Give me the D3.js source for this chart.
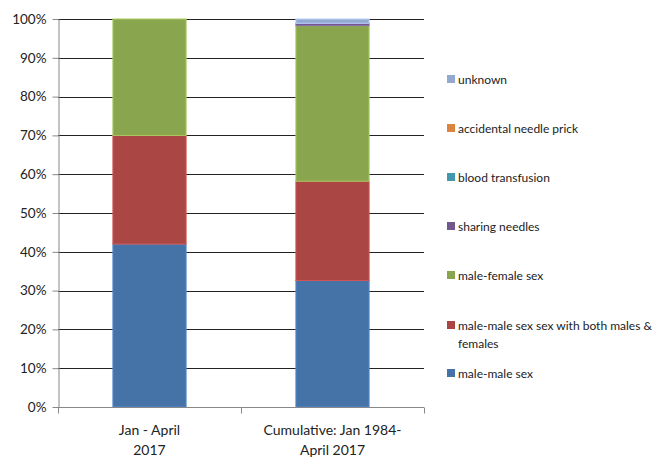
<!DOCTYPE html>
<html><head><meta charset="utf-8">
<script src="https://cdn.jsdelivr.net/npm/d3@7"></script>
<style>body{margin:0;background:#fff}svg text{font-family:Lato,"Open Sans",sans-serif;fill:#222}</style>
</head><body>
<svg id="c" width="657" height="457"></svg>
<script>
const categories = [["Jan - April","2017"],["Cumulative: Jan 1984-","April 2017"]];
const seriesNames = ["male-male sex","male-male sex sex with both males & females","male-female sex","sharing needles","blood transfusion","accidental needle prick","unknown"];
const maleMale = [42, 32.6];
const maleMaleBoth = [28, 25.6];
const maleFemale = [30, 40.1];
const sharingNeedles = [0, 0.6];
const bloodTransfusion = [0, 0];
const needlePrick = [0, 0];
const unknown = [0, 1.1];
const yTicks = [0,10,20,30,40,50,60,70,80,90,100];
const colors = ["#4572A7","#AA4643","#89A54E","#71588F","#4198AF","#DB843D","#93A9CF"];

const values = [maleMale, maleMaleBoth, maleFemale, sharingNeedles, bloodTransfusion, needlePrick, unknown];
const rows = categories.map((c,i)=>{const r={cat:i}; seriesNames.forEach((s,j)=>r[s]=values[j][i]); return r;});
const stack = d3.stack().keys(seriesNames)(rows);

const svg = d3.select("#c");
const L=58, R=424, T=19, B=407;
const x = d3.scaleBand().domain([0,1]).range([L,R]).paddingInner(0.6).paddingOuter(0.3);
const xc = d3.scaleBand().domain([0,1]).range([L,R]);
const y = d3.scaleLinear().domain([0,100]).range([B,T]);

svg.append("g").selectAll("line").data(yTicks.filter(t=>t>0)).join("line")
  .attr("x1",L).attr("x2",R).attr("y1",d=>Math.round(y(d))+0.5).attr("y2",d=>Math.round(y(d))+0.5)
  .attr("stroke","#222").attr("stroke-width",1);

const ya = svg.append("g").attr("transform",`translate(${L+0.5},0)`)
  .call(d3.axisLeft(y).tickValues(yTicks).tickFormat(d=>d+"%").tickSize(6).tickSizeOuter(0));
ya.select(".domain").attr("stroke","#888");
ya.selectAll(".tick line").attr("stroke","#888");
ya.selectAll(".tick text").attr("font-size",13.5).attr("x",-12).attr("fill","#222").style("font-family","Lato, sans-serif");

svg.append("g").selectAll("g").data(stack).join("g")
  .attr("fill",(d,i)=>colors[i])
  .selectAll("rect").data(d=>d).join("rect")
  .attr("x",(d,i)=>x(i)).attr("width",x.bandwidth())
  .attr("y",d=>y(d[1])).attr("height",d=>Math.max(0,y(d[0])-y(d[1])))
  .attr("stroke",function(){return d3.color(d3.select(this.parentNode).attr("fill")).brighter(0.6)})
  .attr("stroke-width",d=>(y(d[0])-y(d[1]))>0.5?1:0);

const xa = svg.append("g").attr("transform",`translate(0,${B+0.5})`);
xa.append("line").attr("x1",L).attr("x2",R).attr("stroke","#888");
xa.selectAll(".t").data([L,(L+R)/2,R]).join("line").attr("class","t")
  .attr("x1",d=>Math.round(d)+0.5).attr("x2",d=>Math.round(d)+0.5).attr("y1",0).attr("y2",6).attr("stroke","#888");
xa.selectAll("text").data(categories).join("text")
  .attr("x",(d,i)=>xc(i)+xc.bandwidth()/2).attr("text-anchor","middle").attr("font-size",14)
  .selectAll("tspan").data(d=>d).join("tspan")
  .attr("x",function(){return d3.select(this.parentNode).attr("x")}).attr("y",(d,i)=>27+i*20).text(d=>d);

const legY = [79,128,177,226,275,325,373];
const legOrder = [6,5,4,3,2,1,0];
const lg = svg.append("g");
legOrder.forEach((si,k)=>{
  const g = lg.append("g").attr("transform",`translate(447,${legY[k]})`);
  g.append("rect").attr("x",0).attr("y",-4).attr("width",8).attr("height",8).attr("fill",colors[si]);
  const t = g.append("text").attr("x",11).attr("y",4.5).attr("font-size",12);
  if(si===1){
    t.append("tspan").attr("x",11).text("male-male sex sex with both males &");
    t.append("tspan").attr("x",11).attr("dy",18).text("females");
  } else t.text(seriesNames[si]);
});
</script>
</body></html>
